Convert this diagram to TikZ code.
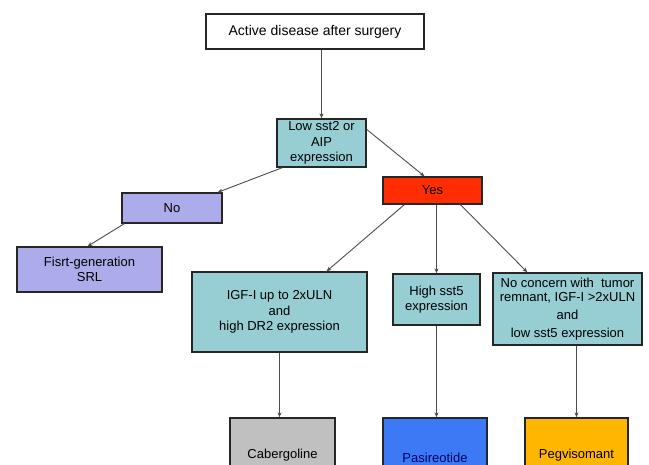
\documentclass[tikz,border=0pt]{standalone}
\usepackage{fontspec}
\setmainfont{Liberation Sans}
\usetikzlibrary{arrows.meta}
\definecolor{bx_teal}{RGB}{150, 206, 212}
\definecolor{bx_lav}{RGB}{172, 172, 234}
\definecolor{bx_red}{RGB}{255, 45, 0}
\definecolor{bx_grey}{RGB}{192, 192, 192}
\definecolor{bx_blue}{RGB}{60, 122, 245}
\definecolor{bx_orange}{RGB}{255, 182, 0}
\tikzstyle{bx}=[rectangle,draw=black!85,line width=1.3pt,align=center,
  inner sep=0pt,font=\fontsize{13}{15.5}\selectfont]
\tikzstyle{tn}=[bx,fill=bx_teal]
\tikzstyle{ln}=[bx,fill=bx_lav]
\tikzstyle{arr}=[draw=black!70,line width=0.9pt,-{Stealth[length=5pt,width=4pt]}]

\begin{document}
\begin{tikzpicture}[x=1pt,y=-1pt]
            \useasboundingbox (0,0) rectangle (649,465);
            \clip (0,0) rectangle (649,465);
            \node [style=bx,fill=white,minimum width=218pt,minimum height=35pt,
              font=\fontsize{14}{16}\selectfont] (0) at (315,31.5) {Active disease after surgery};
            \node [style=tn,minimum width=89pt,minimum height=48pt] (1) at (321.5,143) {Low sst2 or\\AIP\\expression};
            \node [style=ln,minimum width=100pt,minimum height=30pt] (2) at (172,208) {No};
            \node [style=bx,fill=bx_red,minimum width=99pt,minimum height=27pt] (3) at (432.5,190.5) {Yes};
            \node [style=ln,minimum width=145pt,minimum height=45pt] (4) at (89.5,269.5) {Fisrt-generation\\SRL};
            \node [style=tn,minimum width=175pt,minimum height=80pt] (5) at (279.5,312) {IGF-I up to 2xULN\\and\\high DR2 expression};
            \node [style=tn,minimum width=87pt,minimum height=51pt] (6) at (436.5,299.5) {High sst5\\expression};
            \node [style=tn,minimum width=149pt,minimum height=72pt] (7) at (567.5,309)
              {No concern with\ \ tumor\\[-1.5pt]remnant, IGF-I {>}2xULN\\[3pt]and\\[2pt]low sst5 expression};
            \node [style=bx,fill=bx_grey,minimum width=105pt,minimum height=74pt] (8) at (282.5,455) {Cabergoline};
            \node [style=bx,fill=bx_blue,text=blue!40!black,minimum width=104pt,minimum height=74pt] (9) at (435,455) {\raisebox{-2.5pt}[\height][0pt]{Pasireotide}};
            \node [style=bx,fill=bx_orange,minimum width=103pt,minimum height=74pt] (10) at (576.5,455) {Pegvisomant};
            \draw [style=arr] (1.north |- 0.south) to (1.north);
            \draw [style=arr] ([xshift=6pt]1.south west) to ([xshift=-5pt]2.north east);
            \draw [style=arr] ([yshift=-11pt]1.north east) to ([xshift=-8pt]3.north);
            \draw [style=arr] ([xshift=3pt]2.south west) to ([xshift=-2pt]4.north);
            \draw [style=arr] ([xshift=22pt]3.south west) to ([xshift=47pt]5.north);
            \draw [style=arr] (6.north |- 3.south) to (6.north);
            \draw [style=arr] ([xshift=28pt]3.south) to ([xshift=35pt]7.north west);
            \draw [style=arr] (5.south) to (5.south |- 8.north);
            \draw [style=arr] (6.south) to (6.south |- 9.north);
            \draw [style=arr] ([xshift=9pt]7.south) to ([xshift=9pt]7.south |- 10.north);
    \end{tikzpicture}
\end{document}
